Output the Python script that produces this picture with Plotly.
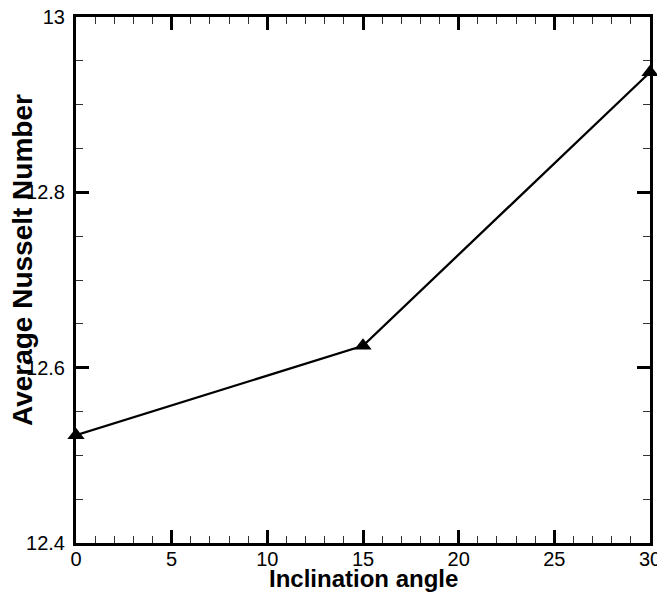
import plotly.graph_objects as go

angles = [0, 15, 30]
nusselt = [12.523, 12.625, 12.937]
x_ticks = [0, 5, 10, 15, 20, 25, 30]
y_ticks = [12.4, 12.6, 12.8, 13.0]
y_tick_text = ["12.4", "12.6", "12.8", "13"]

FONT = "Liberation Sans, Arial, sans-serif"

fig = go.Figure()
fig.add_trace(go.Scatter(
    x=angles, y=nusselt, mode="lines+markers",
    line=dict(color="black", width=2.3),
    marker=dict(symbol="triangle-up", size=15, color="black"),
    cliponaxis=False, showlegend=False,
))

axis_common = dict(
    showline=True, linecolor="black", linewidth=3, mirror="ticks",
    ticks="inside", ticklen=13, tickwidth=2.5, tickcolor="black",
    showgrid=False, zeroline=False, automargin=False,
    ticklabeloverflow="allow",
    tickfont=dict(family=FONT, size=20, color="black"),
)

fig.update_xaxes(
    range=[0, 30], tickvals=x_ticks, ticktext=[str(v) for v in x_ticks],
    minor=dict(ticks="inside", ticklen=7, tickwidth=1.2, tickcolor="#333", dtick=1, tick0=0),
    ticklabelstandoff=-4,
    **axis_common,
)
fig.update_yaxes(
    range=[12.4, 13.0], tickvals=y_ticks, ticktext=y_tick_text,
    minor=dict(ticks="inside", ticklen=7, tickwidth=1.2, tickcolor="#333", dtick=0.05, tick0=12.4),
    ticklabelstandoff=4,
    **axis_common,
)

fig.add_annotation(
    text="<b>Inclination angle</b>", xref="paper", yref="paper",
    x=0.5, y=-0.068, xanchor="center", yanchor="middle", showarrow=False,
    font=dict(family=FONT, size=24, color="black"),
)
fig.add_annotation(
    text="<b>Average Nusselt Number</b>", xref="paper", yref="paper",
    x=-0.094, y=0.538, xanchor="center", yanchor="middle", showarrow=False,
    textangle=-90, font=dict(family=FONT, size=28, color="black"),
)

# page body has an 8px margin, so the figure is offset by 8px
fig.update_layout(
    width=657, height=584,
    margin=dict(l=68, r=15, t=9, b=49),
    plot_bgcolor="white", paper_bgcolor="white",
)

fig.write_html("out.html")
